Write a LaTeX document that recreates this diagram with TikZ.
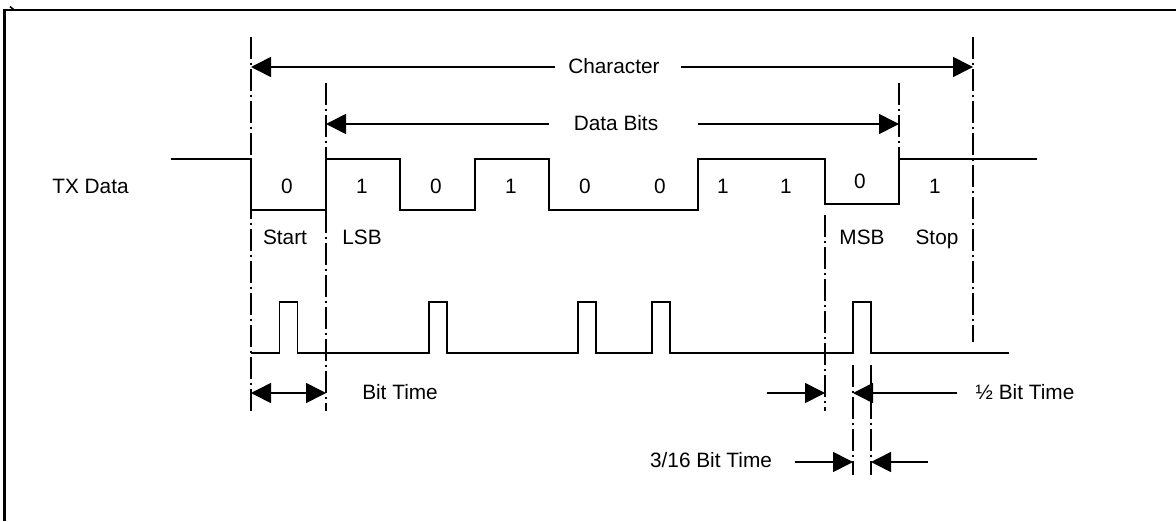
\documentclass[tikz,border=0pt]{standalone}
\usepackage{fontspec}
\setmainfont{Liberation Sans}
\usetikzlibrary{arrows.meta}
\begin{document}
\begin{tikzpicture}[x=0.75pt,y=-0.75pt,
  lbl/.style={inner sep=0pt,anchor=base,font=\fontsize{15.6}{18}\selectfont},
  signal/.style={line width=1.35pt,line join=miter},
  guide/.style={line width=0.9pt,dash pattern=on 16.5pt off 3pt on 1.5pt off 3pt},
  dim/.style={line width=1.2pt,-{Triangle[length=15pt,width=15pt]}},
  dimboth/.style={line width=1.2pt,{Triangle[length=15pt,width=15pt]}-{Triangle[length=15pt,width=15pt]}},
  frame/.style={line width=1.6pt}]
\useasboundingbox (0,0) rectangle (1176,521);

% outer frame (left and top edges)
\draw[frame] (4.5,521) -- (4.5,10) -- (1176,10);
\draw[line width=1.2pt] (10,6.5) -- (13.5,9.5);

% guide coordinates
\coordinate (gA1) at (251,37);   \coordinate (gA2) at (251,411);
\coordinate (gB1) at (326,83);   \coordinate (gB2) at (326,411);
\coordinate (gC1) at (899,83);   \coordinate (gC2) at (899,159);
\coordinate (gD1) at (973,37);   \coordinate (gD2) at (973,342);
\coordinate (gE1) at (825,215);  \coordinate (gE2) at (825,411);
\coordinate (gF1) at (853,365);  \coordinate (gF2) at (853,475);
\coordinate (gG1) at (871,365);  \coordinate (gG2) at (871,475);

% dash-dot guide lines
\draw[guide] (gA1) -- (gA2);
\draw[guide] (gB1) -- (gB2);
\draw[guide] (gC1) -- (gC2);
\draw[guide] (gD1) -- (gD2);
\draw[guide] (gE1) -- (gE2);
\draw[guide] (gF1) -- (gF2);
\draw[guide] (gG1) -- (gG2);

% TX data waveform
\draw[signal] (171,159) -- (251,159) -- (251,210) -- (326,210) -- (326,159)
  -- (400,159) -- (400,210) -- (475,210) -- (475,159) -- (549,159) -- (549,210)
  -- (698,210) -- (698,159) -- (825,159) -- (825,204) -- (899,204) -- (899,159)
  -- (1037,159);

% sampling pulses
\draw[signal] (251,353) -- (279.5,353) -- (279.5,302) -- (297.5,302) -- (297.5,353)
  -- (428.7,353) -- (428.7,302) -- (446.7,302) -- (446.7,353)
  -- (578,353) -- (578,302) -- (596,302) -- (596,353)
  -- (652,353) -- (652,302) -- (670,302) -- (670,353)
  -- (853,353) -- (853,302) -- (871,302) -- (871,353) -- (1009,353);

% labels
\node[lbl] (txd) at (90.5,193) {TX Data};
\node[lbl] (b0) at (287,193) {0};
\node[lbl] (b1) at (362,193) {1};
\node[lbl] (b2) at (436,193) {0};
\node[lbl] (b3) at (511,193) {1};
\node[lbl] (b4) at (585,193) {0};
\node[lbl] (b5) at (660,193) {0};
\node[lbl] (b6) at (723,193) {1};
\node[lbl] (b7) at (786,193) {1};
\node[lbl] (b8) at (860,188) {0};
\node[lbl] (b9) at (935,193) {1};
\node[lbl] (start) at (285,244) {Start};
\node[lbl] (lsb) at (362,244) {LSB};
\node[lbl] (msb) at (862,244) {MSB};
\node[lbl] (stop) at (937,244) {Stop};

% Character span
\node[lbl] (char) at (614,73) {Character};
\coordinate (cL) at (251,67); \coordinate (cR) at (973,67);
\draw[dim] ([xshift=-9.75pt]char.west |- cL) -- (cL);
\draw[dim] ([xshift=15.75pt]char.east |- cR) -- (cR);

% Data Bits span
\node[lbl] (data) at (616,130.5) {Data Bits};
\coordinate (dL) at (326,124); \coordinate (dR) at (899,124);
\draw[dim] ([xshift=-18.75pt]data.west |- dL) -- (dL);
\draw[dim] ([xshift=30pt]data.east |- dR) -- (dR);

% bit time
\coordinate (btL) at (251,393); \coordinate (btR) at (326,393);
\draw[dimboth] (btL) -- (btR);
\node[lbl] (bt) at (400,399) {Bit Time};

% half bit time
\coordinate (hL) at (825,393); \coordinate (hR) at (853,393);
\coordinate (hLs) at (766.7,393); \coordinate (hRs) at (956.7,393);
\draw[dim] (hLs) -- (hL);
\draw[dim] (hRs) -- (hR);
\node[lbl] (half) at (1025,399.3) {½ Bit Time};

% 3/16 bit time
\coordinate (sL) at (853,462); \coordinate (sR) at (871,462);
\coordinate (sLs) at (795,462); \coordinate (sRs) at (928,462);
\draw[dim] (sLs) -- (sL);
\draw[dim] (sRs) -- (sR);
\node[lbl] (sixt) at (711,467.7) {3/16 Bit Time};
\end{tikzpicture}
\end{document}
